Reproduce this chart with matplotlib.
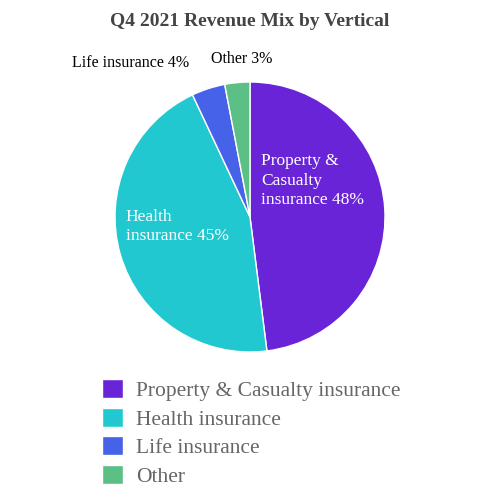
import matplotlib.pyplot as plt

labels = ['Property & Casualty insurance', 'Health insurance', 'Life insurance', 'Other']
inner_labels = ['Property &\nCasualty\ninsurance 48%', 'Health\ninsurance 45%', 'Life insurance 4%', 'Other 3%']
values = [48, 45, 4, 3]
colors = ['#6a24d8', '#22c8d0', '#4562e8', '#5cbf85']

plt.rcParams['font.family'] = ['Liberation Serif', 'DejaVu Serif']

fig = plt.figure(figsize=(5, 5), dpi=100)
ax = fig.add_axes([0.23, 0.296, 0.54, 0.54])
wedges, _ = ax.pie(values, colors=colors, startangle=90, counterclock=False,
                   wedgeprops=dict(edgecolor='white', linewidth=1))
ax.set_xlim(-1, 1)
ax.set_ylim(-1, 1)
ax.set_aspect('equal')

ax.text(0.08, 0.27, inner_labels[0], color='white', fontsize=12.5, ha='left', va='center', linespacing=1.3)
ax.text(-0.92, -0.07, inner_labels[1], color='white', fontsize=12.5, ha='left', va='center', linespacing=1.3)
ax.text(-0.45, 1.14, inner_labels[2], color='black', fontsize=11.5, ha='right', va='center')
ax.text(-0.06, 1.17, inner_labels[3], color='black', fontsize=11.5, ha='center', va='center')

fig.suptitle('Q4 2021 Revenue Mix by Vertical', y=0.975, fontsize=14, fontweight='bold', color='#444444')

leg = fig.legend(wedges, labels, loc='lower left', bbox_to_anchor=(0.165, -0.012),
                 frameon=False, fontsize=15.5, handlelength=1.0, handleheight=1.0,
                 labelspacing=0.3, handletextpad=0.6)
for t in leg.get_texts():
    t.set_color('#666666')

fig.savefig('out.png', dpi=100)
